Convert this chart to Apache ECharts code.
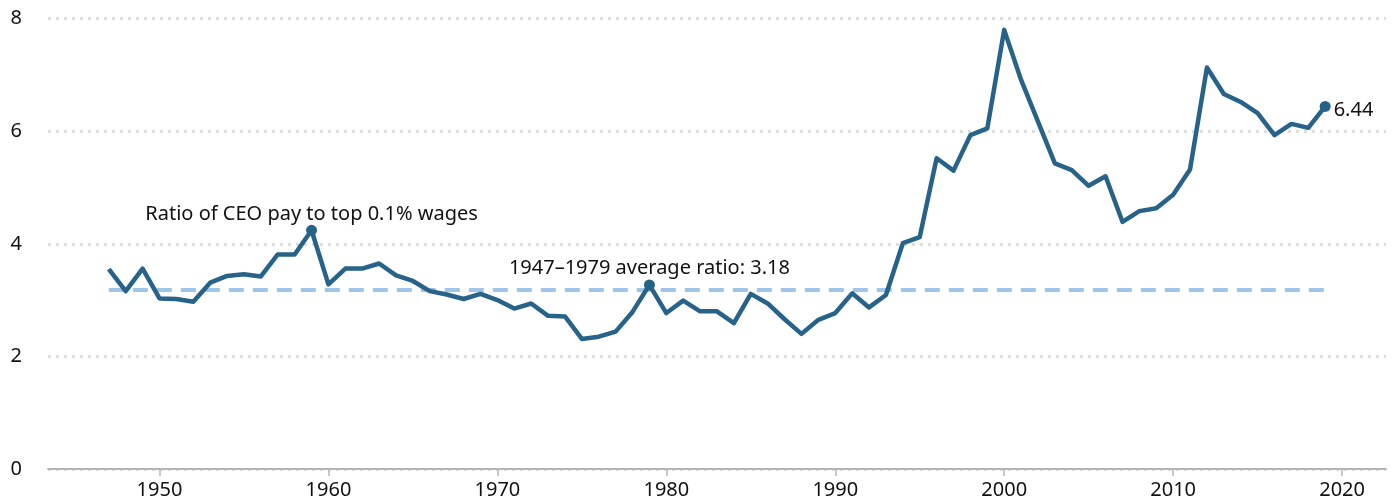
<!DOCTYPE html>
<html>
<head>
<meta charset="utf-8">
<script src="https://cdn.jsdelivr.net/npm/echarts@6/dist/echarts.min.js"></script>
<style>
html,body{margin:0;padding:0;background:#fff;}
#chart{width:1392px;height:504px;}
</style>
</head>
<body>
<div id="chart"></div>
<script>
const years = [1947,1948,1949,1950,1951,1952,1953,1954,1955,1956,1957,1958,1959,1960,
1961,1962,1963,1964,1965,1966,1967,1968,1969,1970,1971,1972,1973,1974,1975,1976,1977,1978,1979,1980,
1981,1982,1983,1984,1985,1986,1987,1988,1989,1990,1991,1992,1993,1994,1995,1996,1997,1998,1999,2000,
2001,2002,2003,2004,2005,2006,2007,2008,2009,2010,2011,2012,2013,2014,2015,2016,2017,2018,2019];
const ratio = [3.55,3.16,3.56,3.03,3.02,2.97,3.31,3.43,3.46,3.42,3.81,3.81,4.24,3.28,
3.56,3.56,3.65,3.44,3.34,3.16,3.10,3.02,3.11,3.00,2.85,2.94,2.72,2.71,2.31,2.35,2.44,2.79,3.27,2.77,
2.99,2.80,2.80,2.59,3.11,2.94,2.66,2.40,2.65,2.77,3.12,2.87,3.09,4.01,4.12,5.52,5.30,5.93,6.05,7.80,
6.91,6.17,5.43,5.31,5.03,5.20,4.39,4.58,4.63,4.87,5.32,7.13,6.66,6.52,6.32,5.93,6.13,6.06,6.44];
const avgRatio = 3.18;
const avgStart = 1947, avgEnd = 1979;
const xTicks = [1950,1960,1970,1980,1990,2000,2010,2020];
const seriesLabel = 'Ratio of CEO pay to top 0.1% wages';
const avgLabel = '1947\u20131979 average ratio: 3.18';

const FONT = 'Noto Sans';
const TXT = '#111111';
const lineData = years.map((y,i)=>[y, ratio[i]]);
const lastIdx = years.length - 1;
const i1959 = years.indexOf(1959);

const chart = echarts.init(document.getElementById('chart'), null, {renderer:'canvas'});
chart.setOption({
  animation:false,
  backgroundColor:'#ffffff',
  grid:{left:48, right:6, top:18.6, bottom:35, containLabel:false},
  xAxis:{
    type:'value', min:1943.4, max:2022.6,
    axisLine:{show:true, lineStyle:{color:'#b5b5b5', width:2}},
    axisTick:{show:true, length:7, lineStyle:{color:'#b5b5b5', width:1.5}, customValues:xTicks},
    axisLabel:{show:true, margin:11, color:TXT, fontFamily:FONT, fontSize:20, customValues:xTicks,
      formatter:v=>String(v)},
    splitLine:{show:false}
  },
  yAxis:{
    type:'value', min:0, max:8, interval:2,
    axisLine:{show:false}, axisTick:{show:false},
    axisLabel:{margin:26, color:TXT, fontFamily:FONT, fontSize:20},
    splitLine:{show:true, lineStyle:{color:'#dddddd', width:3, type:[3,5]}}
  },
  series:[
    {
      type:'line', name:'avg', data:[[avgStart, avgRatio],[years[lastIdx], avgRatio]],
      symbol:'none', lineStyle:{color:'#9fc5e8', width:4, type:[15,9]}, z:2, silent:true
    },
    {
      type:'line', name:'ratio', data:lineData, symbol:'none',
      lineStyle:{color:'#276388', width:4.5, join:'round'}, z:3, silent:true
    },
    {
      type:'scatter', data:[
        {value:lineData[i1959], label:{show:true, position:'top', distance:0, formatter:seriesLabel}},
        {value:[avgEnd, ratio[years.indexOf(avgEnd)]], label:{show:true, position:'top', distance:1, formatter:avgLabel}},
        {value:lineData[lastIdx], label:{show:true, position:'right', distance:3, offset:[0,4], formatter:String(ratio[lastIdx])}}
      ],
      symbol:'circle', symbolSize:11, itemStyle:{color:'#276388', opacity:1}, z:4,
      label:{color:TXT, fontFamily:FONT, fontSize:20}
    }
  ]
});
</script>
</body>
</html>
